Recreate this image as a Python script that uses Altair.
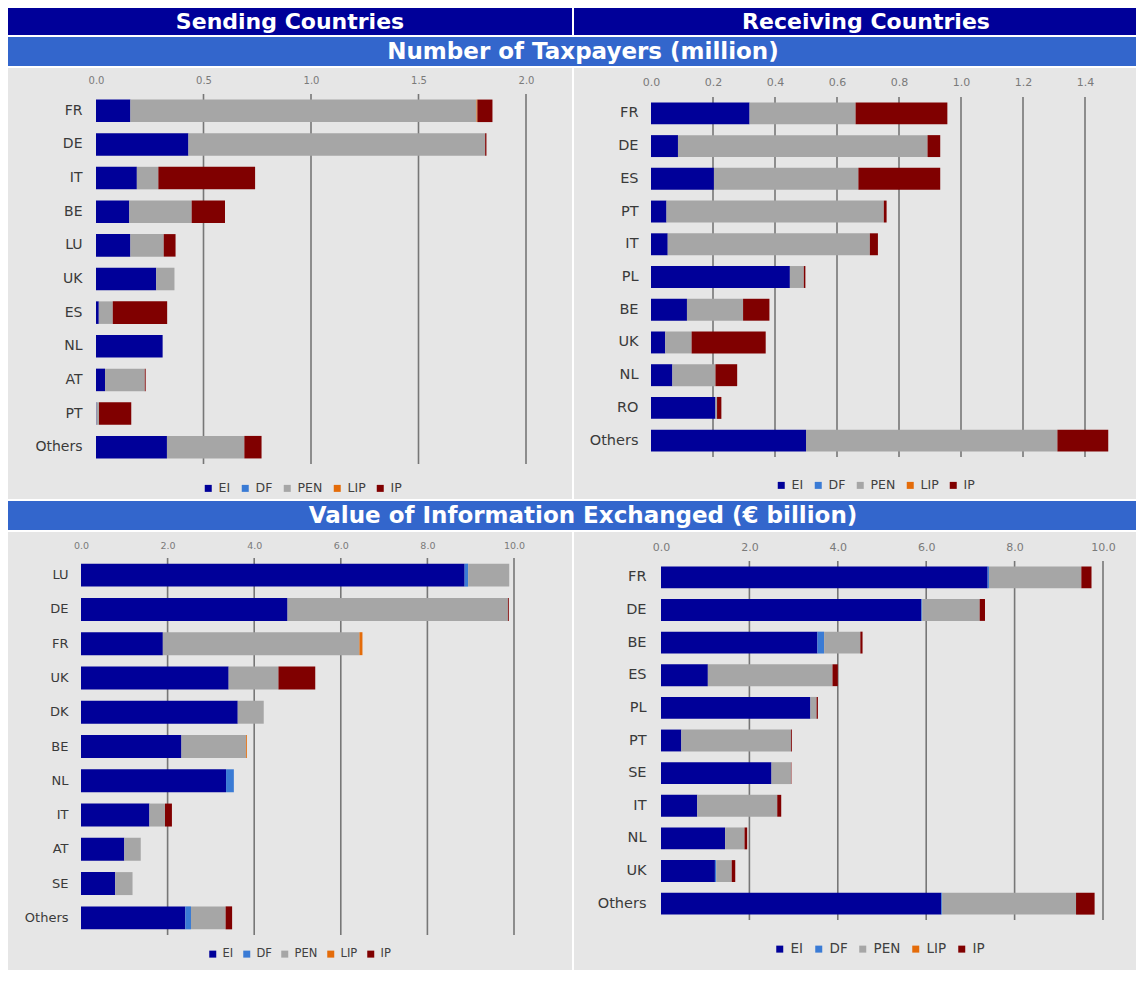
import altair as alt
import pandas as pd

FONT = "DejaVu Sans"
SERIES = ["EI", "DF", "PEN", "LIP", "IP"]
SERIES_COLORS = ["#000099", "#3A7BD5", "#A6A6A6", "#E46C0A", "#800000"]
NAVY = "#000099"
BLUE = "#3366CC"
PANEL_BG = "#E6E6E6"
GRID = "#777777"

# ---------- Number of taxpayers (million): sending countries ----------
tp_send_countries = ["FR", "DE", "IT", "BE", "LU", "UK", "ES", "NL", "AT", "PT", "Others"]
tp_send_EI = [0.16, 0.43, 0.19, 0.155, 0.16, 0.28, 0.013, 0.31, 0.042, 0.002, 0.33]
tp_send_DF = [0.0, 0.0, 0.0, 0.0, 0.0, 0.0, 0.0, 0.0, 0.0, 0.0, 0.0]
tp_send_PEN = [1.61, 1.38, 0.10, 0.29, 0.155, 0.085, 0.065, 0.0, 0.185, 0.012, 0.36]
tp_send_LIP = [0.004, 0.0, 0.0, 0.0, 0.0, 0.0, 0.0, 0.0, 0.0, 0.0, 0.0]
tp_send_IP = [0.07, 0.006, 0.45, 0.155, 0.055, 0.0, 0.253, 0.0, 0.004, 0.15, 0.08]

# ---------- Number of taxpayers (million): receiving countries ----------
tp_recv_countries = ["FR", "DE", "ES", "PT", "IT", "PL", "BE", "UK", "NL", "RO", "Others"]
tp_recv_EI = [0.318, 0.087, 0.203, 0.050, 0.054, 0.448, 0.116, 0.046, 0.069, 0.208, 0.500]
tp_recv_DF = [0.0, 0.0, 0.0, 0.0, 0.0, 0.0, 0.0, 0.0, 0.0, 0.0, 0.0]
tp_recv_PEN = [0.342, 0.805, 0.466, 0.701, 0.652, 0.045, 0.181, 0.085, 0.139, 0.005, 0.811]
tp_recv_LIP = [0.0, 0.0, 0.0, 0.0, 0.0, 0.0, 0.0, 0.0, 0.0, 0.0, 0.0]
tp_recv_IP = [0.296, 0.041, 0.264, 0.009, 0.026, 0.005, 0.085, 0.239, 0.070, 0.014, 0.164]

# ---------- Value of information exchanged (EUR billion): sending ----------
val_send_countries = ["LU", "DE", "FR", "UK", "DK", "BE", "NL", "IT", "AT", "SE", "Others"]
val_send_EI = [8.86, 4.77, 1.89, 3.41, 3.62, 2.32, 3.35, 1.58, 1.00, 0.79, 2.41]
val_send_DF = [0.08, 0.0, 0.0, 0.0, 0.0, 0.0, 0.18, 0.0, 0.0, 0.0, 0.13]
val_send_PEN = [0.95, 5.09, 4.54, 1.15, 0.60, 1.49, 0.0, 0.36, 0.38, 0.40, 0.80]
val_send_LIP = [0.0, 0.0, 0.07, 0.0, 0.0, 0.02, 0.0, 0.0, 0.0, 0.0, 0.0]
val_send_IP = [0.0, 0.02, 0.0, 0.85, 0.0, 0.0, 0.0, 0.16, 0.0, 0.0, 0.15]

# ---------- Value of information exchanged (EUR billion): receiving ----------
val_recv_countries = ["FR", "DE", "BE", "ES", "PL", "PT", "SE", "IT", "NL", "UK", "Others"]
val_recv_EI = [7.39, 5.89, 3.54, 1.06, 3.38, 0.46, 2.50, 0.82, 1.45, 1.22, 6.34]
val_recv_DF = [0.03, 0.02, 0.15, 0.0, 0.0, 0.0, 0.0, 0.0, 0.0, 0.03, 0.02]
val_recv_PEN = [2.09, 1.30, 0.82, 2.82, 0.14, 2.48, 0.44, 1.81, 0.44, 0.35, 3.03]
val_recv_LIP = [0.0, 0.0, 0.0, 0.0, 0.0, 0.0, 0.0, 0.0, 0.0, 0.0, 0.0]
val_recv_IP = [0.23, 0.12, 0.05, 0.12, 0.03, 0.02, 0.01, 0.09, 0.06, 0.08, 0.42]

tp_send_ticks = [0.0, 0.5, 1.0, 1.5, 2.0]
tp_recv_ticks = [0.0, 0.2, 0.4, 0.6, 0.8, 1.0, 1.2, 1.4]
val_ticks = [0.0, 2.0, 4.0, 6.0, 8.0, 10.0]


def make_df(countries, series_lists):
    rows = []
    for ci, c in enumerate(countries):
        for si, s in enumerate(SERIES):
            v = series_lists[si][ci]
            if v > 0:
                rows.append({"country": c, "series": s, "value": v, "ord": si})
    return pd.DataFrame(rows)


def panel(countries, series_lists, dmax, ticks, PW, PH, left, top, W, H,
          ylab_size, ylab_pad, xlab_size, xlab_pad, leg_x, leg_y, leg_size, leg_pad):
    """PW x PH is the whole grey panel; the plot occupies [left, left+W] x [top, top+H]."""
    df = make_df(countries, series_lists)
    xscale = alt.Scale(domain=[0, dmax], nice=False, zero=True, range=[left, left + W])
    xaxis = alt.Axis(orient="top", values=ticks, format=".1f", grid=False,
                     domain=False, ticks=False, tickSize=0, labelFont=FONT,
                     labelFontSize=xlab_size, labelColor="#7A7A7A",
                     labelPadding=xlab_pad, title=None, offset=-top,
                     labelFlush=False)
    grid = alt.Chart(pd.DataFrame({"value": [t for t in ticks if t > 0]})).mark_rule(
        color=GRID, strokeWidth=1.6
    ).encode(
        x=alt.X("value:Q", scale=xscale, axis=xaxis),
        y=alt.value(top), y2=alt.value(top + H),
    )
    bars = alt.Chart(df).mark_bar().encode(
        x=alt.X("value:Q", stack="zero", scale=xscale, axis=xaxis),
        y=alt.Y(
            "country:N", sort=countries,
            scale=alt.Scale(paddingInner=0.33, paddingOuter=0.165, range=[top, top + H]),
            axis=alt.Axis(title=None, domain=False, ticks=False, tickSize=0,
                          labelFont=FONT, labelFontSize=ylab_size,
                          labelColor="#3A3A3A", labelPadding=ylab_pad,
                          offset=-left),
        ),
        color=alt.Color(
            "series:N",
            scale=alt.Scale(domain=SERIES, range=SERIES_COLORS),
            legend=alt.Legend(orient="none", legendX=left + leg_x, legendY=top + leg_y,
                              direction="horizontal", title=None,
                              symbolType="square", symbolSize=49,
                              symbolStrokeWidth=0, labelFont=FONT,
                              labelFontSize=leg_size, labelColor="#404040",
                              columnPadding=leg_pad, labelOffset=4),
        ),
        order=alt.Order("ord:Q"),
    )
    return alt.layer(grid, bars).properties(
        width=PW, height=PH, view=alt.ViewBackground(fill=PANEL_BG, strokeWidth=0)
    )


def band(text, W, H, fill, size, dx=0, dy=0):
    return alt.Chart(alt.Data(values=[{"t": text}])).mark_text(
        font=FONT, fontSize=size, fontWeight="bold", color="white",
        align="center", baseline="middle", dx=dx, dy=dy,
    ).encode(
        text="t:N", x=alt.value(W / 2), y=alt.value(H / 2),
    ).properties(width=W, height=H, view=alt.ViewBackground(fill=fill, strokeWidth=0))


LW, RW = 564, 562
FULL = LW + 2 + RW

header = alt.hconcat(
    band("Sending Countries", LW, 27, NAVY, 22),
    band("Receiving Countries", RW, 27, NAVY, 22, dx=11),
    spacing=2,
)
band1 = band("Number of Taxpayers (million)", FULL, 29, BLUE, 23, dx=11)
band2 = band("Value of Information Exchanged (\u20ac billion)", FULL, 29, BLUE, 23, dx=11)

p_tl = panel(tp_send_countries,
             [tp_send_EI, tp_send_DF, tp_send_PEN, tp_send_LIP, tp_send_IP],
             2.0, tp_send_ticks, LW, 431, 88, 26, 430, 370,
             14, 14, 10, 9, 106, 388, 12.5, 8)
p_tr = panel(tp_recv_countries,
             [tp_recv_EI, tp_recv_DF, tp_recv_PEN, tp_recv_LIP, tp_recv_IP],
             1.5, tp_recv_ticks, RW, 431, 77, 29, 465, 360,
             14.5, 13, 11, 10, 124, 382, 12.5, 8)
p_bl = panel(val_send_countries,
             [val_send_EI, val_send_DF, val_send_PEN, val_send_LIP, val_send_IP],
             10.0, val_ticks, LW, 438, 73, 26, 433, 377,
             13, 13, 9.5, 7.5, 126, 390, 11.5, 7)
p_br = panel(val_recv_countries,
             [val_recv_EI, val_recv_DF, val_recv_PEN, val_recv_LIP, val_recv_IP],
             10.0, val_ticks, RW, 438, 87, 29, 442, 359,
             14.5, 15, 11, 9, 112, 381, 13.5, 8)

row1 = alt.hconcat(p_tl, p_tr, spacing=2).resolve_scale(color="independent")
row2 = alt.hconcat(p_bl, p_br, spacing=2).resolve_scale(color="independent")

chart = alt.vconcat(header, band1, row1, band2, row2, spacing=2).resolve_scale(
    color="independent"
).properties(padding=0, background="white").configure(font=FONT).configure_view(strokeWidth=0)

chart.save("out.html", embed_options={"renderer": "svg", "actions": False})
